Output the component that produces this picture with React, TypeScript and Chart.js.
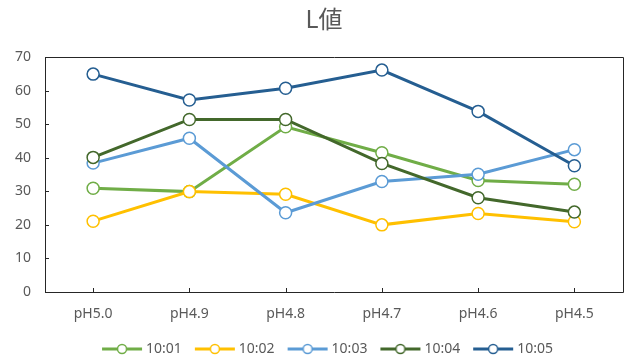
import React, { useEffect, useRef } from "react";
import { Chart, registerables } from "chart.js";

Chart.register(...registerables);

const categories = ["pH5.0", "pH4.9", "pH4.8", "pH4.7", "pH4.6", "pH4.5"];
const seriesNames = ["10:01", "10:02", "10:03", "10:04", "10:05"];
const s1001 = [30.9, 29.9, 49.2, 41.5, 33.2, 32.1];
const s1002 = [21.1, 29.9, 29.1, 20.0, 23.4, 20.9];
const s1003 = [38.4, 45.8, 23.6, 32.9, 35.1, 42.4];
const s1004 = [40.1, 51.4, 51.4, 38.3, 28.1, 23.8];
const s1005 = [64.9, 57.2, 60.7, 66.1, 53.8, 37.6];
const seriesValues = [s1001, s1002, s1003, s1004, s1005];
const colors = ["#70AD47", "#FFC000", "#5B9BD5", "#43682B", "#255E91"];
const yTicks = [0, 10, 20, 30, 40, 50, 60, 70];

function legendImage(color: string): HTMLCanvasElement {
  const c = document.createElement("canvas");
  c.width = 110;
  c.height = 14;
  const ctx = c.getContext("2d")!;
  ctx.strokeStyle = color;
  ctx.lineWidth = 3;
  ctx.beginPath();
  ctx.moveTo(40, 7);
  ctx.lineTo(80, 7);
  ctx.stroke();
  ctx.beginPath();
  ctx.arc(60, 7, 4.5, 0, Math.PI * 2);
  ctx.fillStyle = "#ffffff";
  ctx.fill();
  ctx.lineWidth = 1.5;
  ctx.stroke();
  return c;
}

const framePlugin = {
  id: "frame",
  afterDraw(chart: any) {
    const ctx = chart.ctx;
    const area = chart.chartArea;
    const yScale = chart.scales.y;
    const xScale = chart.scales.x;
    ctx.save();
    ctx.strokeStyle = "#262626";
    ctx.lineWidth = 1;
    ctx.beginPath();
    for (const v of yTicks) {
      const py = Math.round(yScale.getPixelForValue(v)) + 0.5;
      ctx.moveTo(area.left, py);
      ctx.lineTo(area.left + 4, py);
    }
    for (let i = 0; i < categories.length; i++) {
      const px = Math.round(xScale.getPixelForValue(i)) + 0.5;
      ctx.moveTo(px, area.bottom - 4);
      ctx.lineTo(px, area.bottom);
    }
    const l = Math.round(area.left) + 0.5;
    const t = Math.round(area.top) + 0.5;
    const r = Math.round(area.right) + 0.5;
    const b = Math.round(area.bottom) + 0.5;
    ctx.moveTo(l, t);
    ctx.lineTo(r, t);
    ctx.lineTo(r, b);
    ctx.lineTo(l, b);
    ctx.closePath();
    ctx.stroke();
    ctx.restore();
  },
};

export default function App() {
  const ref = useRef<HTMLCanvasElement | null>(null);
  useEffect(() => {
    document.body.style.margin = "0";
    if (!ref.current) return;
    const datasets = seriesNames.map((name, i) => ({
      label: name,
      data: seriesValues[i],
      borderColor: colors[i],
      backgroundColor: colors[i],
      borderWidth: 3,
      pointRadius: 6,
      pointHoverRadius: 6,
      pointBorderWidth: 1.5,
      pointBackgroundColor: "#ffffff",
      pointBorderColor: colors[i],
      tension: 0,
      order: seriesNames.length - i,
    }));
    const chart = new Chart(ref.current, {
      type: "line",
      data: { labels: categories, datasets },
      plugins: [framePlugin],
      options: {
        animation: false,
        responsive: false,
        devicePixelRatio: 1,
        layout: { padding: { left: 25, right: 7, top: 0, bottom: -10 } },
        plugins: {
          tooltip: { enabled: false },
          title: {
            display: true,
            text: "L値",
            color: "#595959",
            font: { family: "'Noto Sans CJK JP', 'Noto Sans'", size: 24, weight: "normal", lineHeight: 1.2 },
            padding: { top: 4, bottom: 24.2 },
          },
          legend: {
            position: "bottom",
            labels: {
              usePointStyle: true,
              pointStyleWidth: 44,
              padding: 6,
              color: "#595959",
              font: { family: "'Noto Sans'", size: 14 },
              generateLabels: () =>
                seriesNames.map((name, i) => ({
                  text: name,
                  pointStyle: legendImage(colors[i]) as any,
                  fillStyle: colors[i],
                  strokeStyle: colors[i],
                  lineWidth: 0,
                  hidden: false,
                  datasetIndex: i,
                  fontColor: "#595959",
                })),
            },
          },
        },
        scales: {
          x: {
            type: "category",
            offset: true,
            grid: { display: false, drawOnChartArea: false },
            border: { display: false },
            ticks: {
              color: "#595959",
              font: { family: "'Noto Sans'", size: 14 },
              padding: 6,
              maxRotation: 0,
            },
            afterFit: (s: any) => {
              s.height = 44;
            },
          },
          y: {
            min: 0,
            max: 70,
            grid: { display: false, drawOnChartArea: false, drawTicks: false },
            border: { display: false },
            ticks: {
              stepSize: 10,
              color: "#595959",
              font: { family: "'Noto Sans'", size: 14 },
              mirror: true,
              crossAlign: "far",
              padding: -30,
            },
            afterFit: (s: any) => {
              s.width = 20;
            },
          },
        },
      },
    });
    return () => chart.destroy();
  }, []);
  return (
    <div style={{ width: 630, height: 356 }}>
      <canvas ref={ref} width={630} height={356} />
    </div>
  );
}
